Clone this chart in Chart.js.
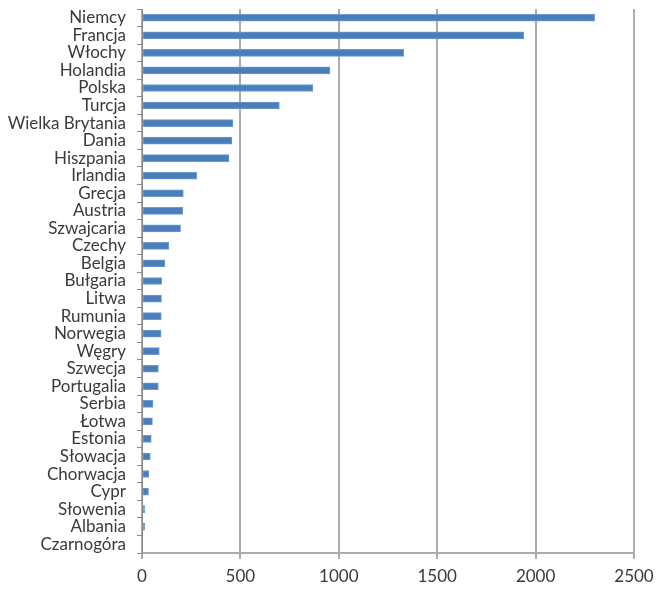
<!DOCTYPE html>
<html>
<head>
<meta charset="utf-8">
<script src="https://cdn.jsdelivr.net/npm/chart.js@4/dist/chart.umd.min.js"></script>
<style>
    html, body { margin: 0; padding: 0; background: #fff; }
    #wrap { width: 660px; height: 593px; position: relative; }
</style>
</head>
<body>
<div id="wrap"><canvas id="mainChart"></canvas></div>
<script>
const countries = [
    "Niemcy", "Francja", "Włochy", "Holandia", "Polska", "Turcja",
    "Wielka Brytania", "Dania", "Hiszpania", "Irlandia", "Grecja", "Austria",
    "Szwajcaria", "Czechy", "Belgia", "Bułgaria", "Litwa", "Rumunia",
    "Norwegia", "Węgry", "Szwecja", "Portugalia", "Serbia", "Łotwa",
    "Estonia", "Słowacja", "Chorwacja", "Cypr", "Słowenia", "Albania", "Czarnogóra"
];

const values = [
    2300, 1940, 1330, 955, 868, 698,
    462, 457, 442, 278, 210, 207,
    196, 136, 116, 100, 99, 98,
    97, 88, 83, 83, 56, 53,
    47, 42, 35, 33, 15, 14, 0
];

const xTicks = [0, 500, 1000, 1500, 2000, 2500];

const textColor = '#3a3a3a';
const fontFamily = "Lato, sans-serif";

const ctx = document.getElementById('mainChart');

new Chart(ctx, {
    type: 'bar',
    data: {
        labels: countries,
        datasets: [{
            data: values,
            backgroundColor: '#4a7ebb',
            borderColor: '#6f9ad0',
            borderWidth: 1,
            borderSkipped: false,
            barThickness: 7
        }]
    },
    options: {
        indexAxis: 'y',
        responsive: true,
        maintainAspectRatio: false,
        animation: false,
        layout: {
            padding: { top: 9, right: 26, left: 0, bottom: 0 }
        },
        plugins: {
            legend: { display: false },
            tooltip: { enabled: false }
        },
        scales: {
            x: {
                min: 0,
                max: 2500,
                afterBuildTicks: (scale) => {
                    scale.ticks = xTicks.map(v => ({ value: v }));
                },
                afterFit: (scale) => {
                    scale.height = 40;
                    scale.paddingLeft = 0;
                    scale.paddingRight = 0;
                },
                grid: {
                    color: '#acacac',
                    lineWidth: 2,
                    tickLength: 6,
                    drawTicks: true
                },
                border: { display: true, color: '#acacac', width: 2 },
                ticks: {
                    color: textColor,
                    padding: 7,
                    font: { family: fontFamily, size: 17 },
                    maxRotation: 0,
                    callback: (v) => String(v)
                }
            },
            y: {
                afterFit: (scale) => {
                    scale.width = 142;
                    scale.paddingTop = 0;
                    scale.paddingBottom = 0;
                },
                grid: {
                    drawOnChartArea: false,
                    color: '#8a8a8a',
                    tickLength: 5,
                    lineWidth: 1
                },
                border: { display: true, color: '#8a8a8a', width: 1 },
                ticks: {
                    color: textColor,
                    padding: 11,
                    autoSkip: false,
                    font: { family: fontFamily, size: 17 }
                }
            }
        }
    }
});
</script>
</body>
</html>
